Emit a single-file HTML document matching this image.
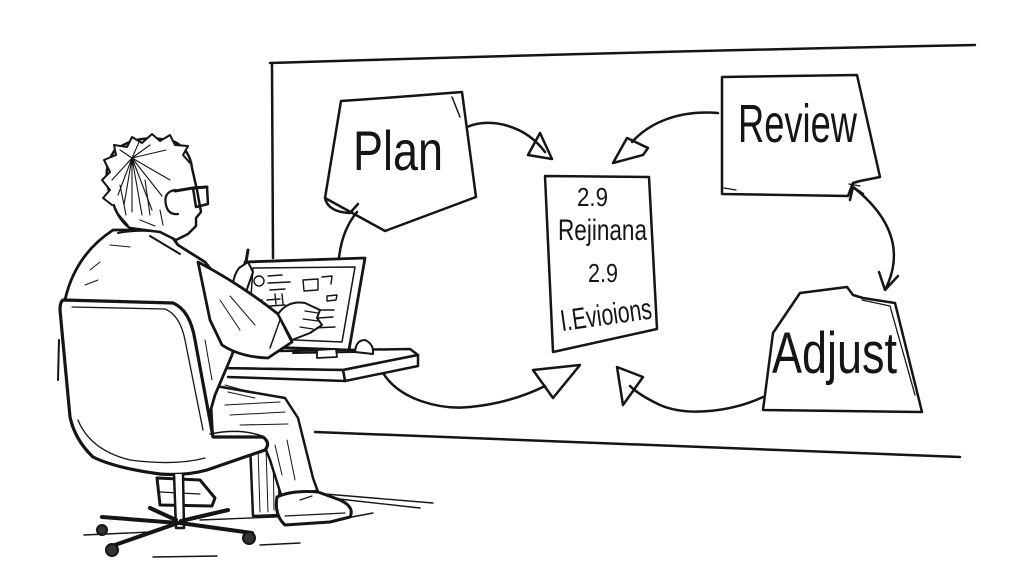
<!DOCTYPE html>
<html><head><meta charset="utf-8"><style>
html,body{margin:0;padding:0;background:#fff;}
svg{display:block;}
text{font-family:"Liberation Sans",sans-serif;fill:#151515;}
</style></head><body>
<svg width="1024" height="576" viewBox="0 0 1024 576" xmlns="http://www.w3.org/2000/svg">
<rect width="1024" height="576" fill="#fff"/>
<g fill="none" stroke="#151515" stroke-width="2.5" stroke-linecap="round" stroke-linejoin="round">
<!-- whiteboard -->
<path d="M270,63 Q620,52 975,45"/>
<path d="M272,63 L273,258"/>
<path d="M315,432 Q640,444 960,457"/>

<!-- Plan box -->
<path d="M341,101 Q400,97 462,92 L476,197 L385,231 L325,198 Z" fill="#fff"/>
<path d="M452,97 L460,117" stroke-width="1.5"/>
<path d="M325,198 Q328,212 350,213 L358,204"/>
<!-- left arc from plan -->
<path d="M357,212 Q342,230 339,258"/>
<!-- plan -> center arrow -->
<path d="M467,127 C490,117 525,125 545,152"/>
<path d="M528,155 L540,133 L552,159 Z"/>

<!-- center note -->
<path d="M545,176 L649,177 L657,329 L553,352 Z" fill="#fff"/>

<!-- Review box -->
<path d="M722,77 L857,75 L880,177 L860,181 L853,183 L848,196 L722,194 Z" fill="#fff"/>
<path d="M724,188 L736,190 M849,184 L860,186" stroke-width="1.3"/>
<!-- review -> center -->
<path d="M718,113 C680,110 650,122 632,142"/>
<path d="M613,163 L627,138 L648,148 L643,155 Z"/>
<!-- review <-> adjust -->
<path d="M853,187 C895,220 902,255 886,288"/>
<path d="M850,200 L853,187 L863,194"/>
<path d="M879,272 L885,290 L898,276"/>

<!-- Adjust box -->
<path d="M773,333 L800,293 L847,287 L853,295 L863,298 L895,303 L922,412 L763,410 Z" fill="#fff"/>
<path d="M862,300 L890,306 M890,306 L915,395" stroke-width="1.3"/>
<!-- adjust -> center -->
<path d="M763,397 C735,410 690,418 660,405 C645,398 636,392 630,386"/>
<path d="M617,367 L643,377 L623,405 Z"/>

<!-- bottom arc from desk -->
<path d="M383,373 C400,400 440,410 470,407 C500,404 525,396 545,386"/>
<path d="M533,370 L580,365 L553,398 Z"/>

<!-- floor lines -->
<g stroke-width="1.4">
<path d="M313,493 L433,503"/>
<path d="M330,498 L420,508"/>
<path d="M320,523 L373,513"/>
<path d="M153,557 L217,556"/>
<path d="M84,535 L150,532"/>
<path d="M200,520 L300,516"/>
<path d="M260,545 L300,543"/>
</g>

<!-- desk post -->
<path d="M250,443 L278,443 L280,515 L253,516 Z" fill="#fff"/>
<path d="M258,448 L260,512 M266,448 L268,512 M273,450 L274,510" stroke-width="1"/>

<!-- back shoe -->
<path d="M157,478 L200,480 L215,498 L212,506 L160,505 Z" fill="#fff" stroke-width="3"/>
<path d="M160,492 L200,494" stroke-width="1.2"/>

<!-- legs -->
<path d="M210,385 L285,398 L298,418 L313,478 L318,492 L282,498 L270,460 L262,440 L213,440 Z" fill="#fff"/>
<path d="M283,498 L318,490" stroke-width="1.5"/>
<path d="M225,405 L280,402 M230,415 L285,412 M240,425 L288,424 M275,445 L282,475 M287,440 L295,480" stroke-width="1"/>
<!-- front shoe -->
<path d="M277,497 Q292,490 318,492 L340,500 Q355,507 350,517 L330,522 L285,525 Q274,515 277,497 Z" fill="#fff" stroke-width="3"/>
<path d="M300,500 L312,496 M285,516 L345,513" stroke-width="1.2"/>

<!-- desk -->
<path d="M217,352 L410,349 L418,355 L343,370 L217,368 Z" fill="#fff"/>
<path d="M343,370 L418,355 L418,366 L345,381 Z" fill="#fff"/>
<path d="M217,368 L343,370 L345,381 L228,377" fill="#fff"/>
<path d="M225,385 L250,392 M228,392 L255,398" stroke-width="1"/>

<!-- laptop -->
<path d="M245,262 L365,258 L349,350 L240,346 Z" fill="#fff" stroke-width="2.8"/>
<path d="M253,268 L355,267 L342,342 L248,338 Z" stroke-width="1.5"/>
<g stroke-width="1.4">
<circle cx="259" cy="281" r="5"/>
<path d="M268,276 L282,275 M268,283 L290,282 M270,290 L285,289"/>
<path d="M303,280 L318,279 L318,290 L304,291 Z"/>
<path d="M322,277 L332,276 L331,284"/>
<path d="M327,296 L337,295 L336,300 L327,301 Z"/>
<path d="M252,301 L262,300 L262,310 L252,311 Z"/>
<path d="M267,300 L280,299 M270,306 L285,305 M275,294 L276,304 M282,294 L283,304"/>
<path d="M320,310 L334,310 M318,318 L333,317 M312,328 L335,327"/>
</g>
<path d="M293,353 L355,352" stroke-width="2"/>
<path d="M317,350 L336,349 L337,357 L317,358 Z" fill="#fff" stroke-width="1.8"/>
<path d="M355,352 Q356,340 365,340 Q374,344 373,354 Z" fill="#fff" stroke-width="2"/>

<!-- torso -->
<path d="M113,230 L167,230 L178,245 L205,262 L232,295 L240,330 L232,355 L215,395 L205,430 L100,430 L65,300 Q75,255 113,230 Z" fill="#fff" stroke-width="2.8"/>
<path d="M118,233 Q145,228 170,234 M150,236 L180,254" stroke-width="2"/>
<path d="M90,270 L100,262 M85,285 L98,280 M210,300 L215,330 M205,340 L212,380 M110,245 L130,247" stroke-width="1"/>

<!-- left hand + pen -->
<path d="M233,296 Q231,279 239,268 L248,262 L253,272 L246,292 Z" fill="#fff" stroke-width="2"/>
<path d="M246,262 L248,250" stroke-width="3"/>

<!-- right arm -->
<path d="M198,262 Q240,284 278,314 L292,342 L268,358 Q240,357 222,345 L210,320 Z" fill="#fff" stroke-width="2.8"/>
<path d="M280,320 L270,348" stroke-width="1.5"/>
<path d="M220,300 L240,330 M230,296 L255,325" stroke-width="1"/>
<!-- right hand -->
<path d="M278,314 Q288,300 305,303 L320,310 L317,318 L322,325 L310,333 L292,340 Z" fill="#fff" stroke-width="2"/>
<path d="M305,311 L318,313 M303,319 L318,321 M300,327 L313,329" stroke-width="1.3"/>

<!-- head -->
<path d="M112,200 Q100,170 115,150 Q140,132 175,142 Q190,150 192,168 L197,190 L201,212 L196,218 L196,226 L188,234 L176,240 L160,232 L130,228 Q118,220 112,200 Z" fill="#fff"/>
<path d="M112,205 L103,198 L110,190 L102,180 L110,172 L104,160 L116,155 L114,145 L127,147 L132,137 L142,143 L152,134 L160,141 L170,135 L175,145 L188,146 L183,155 L190,163" fill="#fff" stroke-width="2"/>
<g stroke-width="1.1">
<path d="M132,158 L118,195 M132,158 L124,205 M132,158 L132,212 M132,158 L142,215 M132,158 L152,210 M132,158 L162,196 M132,158 L170,180 M132,158 L112,180 M132,158 L150,145 M132,158 L166,150 M132,158 L120,150 M132,158 L140,140"/>
<path d="M115,210 L128,225 M140,220 L155,226 M160,210 L163,225 M120,185 L126,215 M145,180 L150,215"/>
</g>
<!-- ear -->
<path d="M175,190 Q163,192 166,205 Q168,215 178,214" fill="#fff" stroke-width="2.2"/>
<!-- glasses -->
<path d="M175,191 L193,188 L207,187" stroke-width="3"/>
<path d="M193,188 L207,187 L208,204 L196,207 Z" stroke-width="2.5"/>

<!-- chair back -->
<path d="M63,300 L173,303 Q190,310 195,340 L213,437 L263,437 Q271,443 265,450 L207,470 Q185,476 160,474 Q115,468 93,457 Q75,440 70,417 L60,310 Q60,302 63,300 Z" fill="#fff" stroke-width="3.2"/>
<path d="M72,307 L165,309 Q180,315 185,340 L203,430" stroke-width="1.3"/>
<path d="M78,420 Q90,450 130,460 Q175,466 205,458" stroke-width="1.3"/>
<path d="M210,434 Q240,428 262,436" stroke-width="1.5"/>
<path d="M59,340 L58,380" stroke-width="2"/>

<!-- chair base -->
<path d="M174,474 L176,528 L184,528 L183,474" fill="#fff" stroke-width="2.5"/>
<path d="M178,523 L102,517 M178,523 L112,546 M180,523 L252,533 M181,521 L228,510 M176,520 L150,508" stroke-width="4"/>
<circle cx="102" cy="530" r="5" fill="#333" stroke-width="2"/>
<circle cx="112" cy="550" r="6" fill="#333" stroke-width="2"/>
<circle cx="249" cy="538" r="6" fill="#333" stroke-width="2"/>
</g>

<!-- labels -->
<text x="353" y="170" font-size="56" textLength="90" lengthAdjust="spacingAndGlyphs">Plan</text>
<text x="738" y="142" font-size="54" textLength="119" lengthAdjust="spacingAndGlyphs">Review</text>
<text x="772" y="373" font-size="58" textLength="125" lengthAdjust="spacingAndGlyphs">Adjust</text>
<text x="577" y="206" font-size="26" textLength="31" lengthAdjust="spacingAndGlyphs">2.9</text>
<text x="558" y="240" font-size="30" textLength="89" lengthAdjust="spacingAndGlyphs">Rejinana</text>
<text x="588" y="282" font-size="26" textLength="30" lengthAdjust="spacingAndGlyphs">2.9</text>
<text x="560" y="325" font-size="30" textLength="92" lengthAdjust="spacingAndGlyphs" transform="rotate(-8 605 315)">I.Evioions</text>
</svg>
</body></html>
